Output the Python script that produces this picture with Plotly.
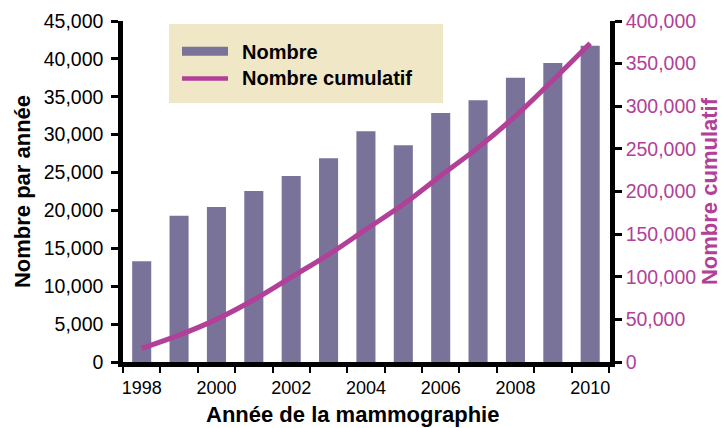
import plotly.graph_objects as go

# values
years = [1998, 1999, 2000, 2001, 2002, 2003, 2004, 2005, 2006, 2007, 2008, 2009, 2010]
nombre = [13300, 19300, 20450, 22550, 24550, 26900, 30450, 28600, 32850,
          34550, 37500, 39450, 41750]
cumulatif = [16000, 31500, 50000, 73000, 99500, 126000, 155500, 185000,
             218500, 251500, 288500, 330500, 374000]
year_labels = [1998, 2000, 2002, 2004, 2006, 2008, 2010]

BAR = '#79739a'
LINE = '#b23f98'
FONT = 'Liberation Sans, Arial, Helvetica, sans-serif'

W, H = 725, 428
L, R, T, B = 123, 115, 21, 66


def px_x(x):
    return (x - L) / (W - L - R)


def px_y(y):
    return (H - B - y) / (H - T - B)


fig = go.Figure()
fig.add_trace(go.Bar(x=years, y=nombre, name='Nombre', marker_color=BAR,
                     marker_line_width=0, width=0.51, showlegend=False))
fig.add_trace(go.Scatter(x=years, y=cumulatif, name='Nombre cumulatif',
                         mode='lines', yaxis='y2', showlegend=False,
                         line=dict(color=LINE, width=5, shape='spline')))

fig.update_layout(
    width=W, height=H,
    margin=dict(l=L, r=R, t=T, b=B, autoexpand=False),
    paper_bgcolor='white', plot_bgcolor='white',
    font=dict(family=FONT, color='black'),
    xaxis=dict(range=[1997.5, 2010.53], tickvals=year_labels,
               ticks='outside', ticklen=0, showgrid=False, zeroline=False,
               showline=True, linecolor='black', linewidth=4.5,
               tickfont=dict(size=18), ticklabelstandoff=6,
               minor=dict(tick0=1998.5, dtick=1, ticks='outside', ticklen=6,
                          tickwidth=2, tickcolor='black', showgrid=False)),
    yaxis=dict(range=[0, 45000], dtick=5000, tickformat=',d',
               ticks='outside', ticklen=7, tickwidth=3, tickcolor='black',
               showgrid=False, zeroline=False, showline=True,
               linecolor='black', linewidth=4.5, tickfont=dict(size=19.5),
               ticklabelstandoff=4,
               title=dict(text='<b>Nombre par année</b>', standoff=8,
                          font=dict(size=22))),
    yaxis2=dict(range=[0, 400000], dtick=50000, tickformat=',d',
                overlaying='y', side='right',
                ticks='outside', ticklen=7, tickwidth=3, tickcolor='black',
                showgrid=False, zeroline=False, showline=True,
                linecolor='black', linewidth=4.5,
                tickfont=dict(size=19.5, color=LINE), ticklabelstandoff=0,
                title=dict(text='<b>Nombre cumulatif</b>', standoff=8,
                           font=dict(size=22, color=LINE))),
)

# x axis title, sitting a bit left of the plot centre as in the reference
fig.add_annotation(text='<b>Année de la mammographie</b>', xref='paper',
                   yref='paper', x=px_x(352), y=px_y(414), showarrow=False,
                   xanchor='center', yanchor='middle', font=dict(size=22))

# legend box drawn by hand (wide swatches like the original)
fig.add_shape(type='rect', xref='paper', yref='paper', x0=px_x(169),
              x1=px_x(443), y0=px_y(103), y1=px_y(24),
              fillcolor='#f0e7c6', line_width=0, layer='below')
fig.add_shape(type='rect', xref='paper', yref='paper', x0=px_x(182),
              x1=px_x(228), y0=px_y(55.7), y1=px_y(46.7),
              fillcolor=BAR, line_width=0)
fig.add_shape(type='line', xref='paper', yref='paper', x0=px_x(182),
              x1=px_x(228), y0=px_y(78.5), y1=px_y(78.5),
              line=dict(color=LINE, width=4.5))
fig.add_annotation(text='<b>Nombre</b>', xref='paper', yref='paper',
                   x=px_x(240), y=px_y(52), showarrow=False, xanchor='left',
                   yanchor='middle', font=dict(size=20))
fig.add_annotation(text='<b>Nombre cumulatif</b>', xref='paper',
                   yref='paper', x=px_x(240), y=px_y(78), showarrow=False,
                   xanchor='left', yanchor='middle', font=dict(size=20))

# drop the default page margin so the figure sits at the window corner
fig.write_html("out.html", config={'displayModeBar': False},
               post_script="document.body.style.margin='0';")
